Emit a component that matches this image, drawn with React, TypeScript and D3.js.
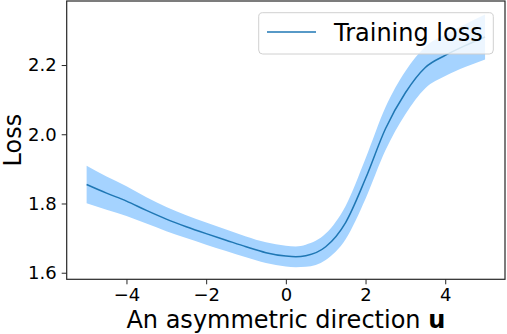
import * as d3 from 'd3';
import React, { useEffect, useRef } from 'react';

// direction coordinate along u
const xs = [-5, -4.5, -4, -3.5, -3, -2.5, -2, -1.5, -1, -0.5, 0, 0.25, 0.5, 1, 1.5, 2, 2.5, 3, 3.5, 4, 4.5, 5];
// mean training loss
const lossMean = [1.855, 1.830, 1.807, 1.780, 1.755, 1.733, 1.713, 1.694, 1.675, 1.658, 1.648, 1.646, 1.649, 1.675, 1.745, 1.872, 2.016, 2.120, 2.193, 2.228, 2.256, 2.281];
// spread of the shaded band
const lossStd = [0.054, 0.048, 0.043, 0.038, 0.035, 0.033, 0.032, 0.031, 0.030, 0.030, 0.030, 0.030, 0.032, 0.038, 0.048, 0.058, 0.062, 0.062, 0.060, 0.060, 0.062, 0.065];

const xTicks = [-4, -2, 0, 2, 4];
const yTicks = [1.6, 1.8, 2.0, 2.2];
const legendLabel = "Training loss";

const LossChart = () => {
  const svgRef = useRef<SVGSVGElement>(null);
  const width = 507, height = 334;
  const margin = { top: 1, right: 2, bottom: 54.7, left: 66.7 };

  useEffect(() => {
    if (!svgRef.current) return;
    const svg = d3.select(svgRef.current);
    svg.selectAll("*").remove();

    const data = xs.map((x, i) => ({ x, m: lossMean[i], s: lossStd[i] }));

    const xScale = d3.scaleLinear().domain([-5.5, 5.5]).range([margin.left, width - margin.right]);
    const yScale = d3.scaleLinear().domain([1.581, 2.385]).range([height - margin.bottom, margin.top]);

    const font = "'DejaVu Sans', sans-serif";

    const area = d3.area<any>()
      .x(d => xScale(d.x))
      .y0(d => yScale(d.m - d.s))
      .y1(d => yScale(d.m + d.s))
      .curve(d3.curveMonotoneX);

    const line = d3.line<any>()
      .x(d => xScale(d.x))
      .y(d => yScale(d.m))
      .curve(d3.curveMonotoneX);

    svg.append("path").datum(data)
      .attr("d", area)
      .attr("fill", "#a5d3ff");

    svg.append("path").datum(data)
      .attr("d", line)
      .attr("fill", "none")
      .attr("stroke", "#1f77b4")
      .attr("stroke-width", 1.5);

    // x axis
    const xAxis = svg.append("g")
      .attr("transform", `translate(0, ${height - margin.bottom})`)
      .call(d3.axisBottom(xScale).tickValues(xTicks).tickSize(5).tickPadding(4)
        .tickFormat(d => (d as number) < 0 ? `\u2212${Math.abs(d as number)}` : `${d}`));
    xAxis.select(".domain").remove();
    xAxis.selectAll("line").attr("stroke", "#262626").attr("stroke-width", 1);
    xAxis.selectAll("text").style("font-family", font).style("font-size", "18px").attr("fill", "#000");

    // y axis
    const yAxis = svg.append("g")
      .attr("transform", `translate(${margin.left}, 0)`)
      .call(d3.axisLeft(yScale).tickValues(yTicks).tickSize(5).tickPadding(5).tickFormat(d3.format(".1f")));
    yAxis.select(".domain").remove();
    yAxis.selectAll("line").attr("stroke", "#262626").attr("stroke-width", 1);
    yAxis.selectAll("text").style("font-family", font).style("font-size", "18px").attr("fill", "#000");

    // frame
    svg.append("rect")
      .attr("x", margin.left)
      .attr("y", margin.top)
      .attr("width", width - margin.left - margin.right)
      .attr("height", height - margin.top - margin.bottom)
      .attr("fill", "none")
      .attr("stroke", "#262626")
      .attr("stroke-width", 1.2);

    // legend
    const lg = svg.append("g");
    lg.append("rect")
      .attr("x", 258.7).attr("y", 12.7)
      .attr("width", 234.6).attr("height", 41.3)
      .attr("rx", 4)
      .attr("fill", "#fff").attr("fill-opacity", 0.8)
      .attr("stroke", "#d0d0d0").attr("stroke-width", 1);
    lg.append("line")
      .attr("x1", 267).attr("x2", 316)
      .attr("y1", 32).attr("y2", 32)
      .attr("stroke", "#1f77b4").attr("stroke-width", 1.5);
    lg.append("text")
      .attr("x", 334).attr("y", 40.5)
      .style("font-family", font).style("font-size", "24px")
      .text(legendLabel);

    // axis labels
    const xl = svg.append("text")
      .attr("x", (margin.left + width - margin.right) / 2)
      .attr("y", 328)
      .attr("text-anchor", "middle")
      .style("font-family", font).style("font-size", "24px");
    xl.append("tspan").text("An asymmetric direction ");
    xl.append("tspan").attr("font-weight", "bold").text("u");

    svg.append("text")
      .attr("transform", `translate(21, ${(margin.top + height - margin.bottom) / 2}) rotate(-90)`)
      .attr("text-anchor", "middle")
      .style("font-family", font).style("font-size", "24px")
      .text("Loss");
  }, []);

  return (
    <svg ref={svgRef} width={width} height={height}
      style={{ position: 'absolute', left: 0, top: 0, background: '#fff' }} />
  );
};

export default function App() {
  return <LossChart />;
}
